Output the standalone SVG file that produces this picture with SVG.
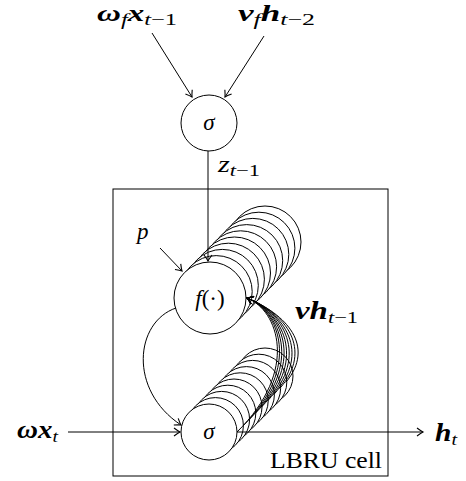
<svg xmlns="http://www.w3.org/2000/svg" width="466" height="481" viewBox="0 0 466 481">
<style>
.ln{fill:none;stroke:#000;stroke-width:1}
.cir{fill:#fff;stroke:#000;stroke-width:1}
.it{font-family:"Liberation Serif",serif;font-style:italic;font-size:23px;fill:#000}
.bi{font-family:"Liberation Serif",serif;font-style:italic;font-weight:bold;font-size:25px;fill:#000}
.bt{font-family:"Liberation Serif",serif;font-style:italic;font-weight:bold;font-size:23px;fill:#000}
.up{font-family:"Liberation Serif",serif;font-style:normal;font-size:23px;fill:#000}
.sub{font-family:"Liberation Serif",serif;font-style:italic;font-weight:normal;font-size:17px;fill:#000}
.rm{font-style:normal}
</style>
<defs>
<marker id="ar" markerWidth="12" markerHeight="12" refX="0" refY="0" viewBox="-7 -6 8 12" orient="auto" markerUnits="userSpaceOnUse">
<path d="M-6,-4 Q-2,-1 0,0 Q-2,1 -6,4" fill="none" stroke="#000" stroke-width="1.1"/>
</marker>
</defs>

<rect id="cell" x="113" y="189" width="275" height="287" fill="none" stroke="#000" stroke-width="1"/>

<g id="sigma-top">
<circle class="cir" cx="209" cy="123" r="28"/>
<text class="it" x="209" y="130" text-anchor="middle">σ</text>
</g>

<g id="f-stack">
<circle class="cir" cx="265" cy="242" r="36"/>
<circle class="cir" cx="258.9" cy="248.2" r="36"/>
<circle class="cir" cx="252.8" cy="254.4" r="36"/>
<circle class="cir" cx="246.7" cy="260.6" r="36"/>
<circle class="cir" cx="240.6" cy="266.8" r="36"/>
<circle class="cir" cx="234.5" cy="273" r="36"/>
<circle class="cir" cx="228.4" cy="279.2" r="36"/>
<circle class="cir" cx="222.3" cy="285.4" r="36"/>
<circle class="cir" cx="216.2" cy="291.6" r="36"/>
<circle class="cir" cx="210" cy="298" r="36"/>
<text x="210" y="306" text-anchor="middle"><tspan class="it">f</tspan><tspan class="up">(·)</tspan></text>
</g>

<g id="sigma-stack">
<circle class="cir" cx="265" cy="376" r="28"/>
<circle class="cir" cx="258.8" cy="382.2" r="28"/>
<circle class="cir" cx="252.6" cy="388.4" r="28"/>
<circle class="cir" cx="246.4" cy="394.6" r="28"/>
<circle class="cir" cx="240.2" cy="400.8" r="28"/>
<circle class="cir" cx="234" cy="407" r="28"/>
<circle class="cir" cx="227.8" cy="413.2" r="28"/>
<circle class="cir" cx="221.6" cy="419.4" r="28"/>
<circle class="cir" cx="215.4" cy="425.6" r="28"/>
<circle class="cir" cx="209" cy="432" r="28"/>
<text class="it" x="209" y="439" text-anchor="middle">σ</text>
</g>

<g id="connectors">
<line class="ln" x1="152" y1="33" x2="192" y2="97" marker-end="url(#ar)"/>
<line class="ln" x1="264" y1="36" x2="225" y2="97" marker-end="url(#ar)"/>
<line class="ln" x1="208" y1="151" x2="208" y2="261" marker-end="url(#ar)"/>
<line class="ln" x1="160" y1="248" x2="182" y2="271" marker-end="url(#ar)"/>
<path class="ln" d="M176,308 C135,322 128,390 181,425" marker-end="url(#ar)"/>
<line class="ln" x1="68" y1="432" x2="180" y2="432" marker-end="url(#ar)"/>
<line class="ln" x1="237" y1="432" x2="423" y2="432" marker-end="url(#ar)"/>
<path class="ln" d="M237,432 C300,370 278,310 247,298" marker-end="url(#ar)"/>
<path class="ln" d="M243.1,425.8 C302,367 279,310 247,298" marker-end="url(#ar)"/>
<path class="ln" d="M249.2,419.6 C304,364 280,311 247,298" marker-end="url(#ar)"/>
<path class="ln" d="M255.3,413.4 C306,361 281,311 247,298" marker-end="url(#ar)"/>
<path class="ln" d="M261.4,407.2 C308,358 282,312 247,298" marker-end="url(#ar)"/>
<path class="ln" d="M267.5,401 C310,355 283,312 247,298" marker-end="url(#ar)"/>
<path class="ln" d="M273.6,394.8 C312,352 284,313 247,298" marker-end="url(#ar)"/>
<path class="ln" d="M279.7,388.6 C314,349 285,313 247,298" marker-end="url(#ar)"/>
<path class="ln" d="M285.8,382.4 C316,346 286,314 247,298" marker-end="url(#ar)"/>
</g>

<g id="labels">
<text x="97" y="21" textLength="80" lengthAdjust="spacingAndGlyphs"><tspan class="bt">ω</tspan><tspan class="sub" dy="4">f</tspan><tspan class="bt" dy="-4">x</tspan><tspan class="sub" dy="4">t<tspan class="rm">−1</tspan></tspan></text>
<text x="238" y="21" textLength="77" lengthAdjust="spacingAndGlyphs"><tspan class="bt">v</tspan><tspan class="sub" dy="4">f</tspan><tspan class="bt" dy="-4">h</tspan><tspan class="sub" dy="4">t<tspan class="rm">−2</tspan></tspan></text>
<text x="218" y="172" textLength="42" lengthAdjust="spacingAndGlyphs"><tspan class="it">z</tspan><tspan class="sub" dy="4">t<tspan class="rm">−1</tspan></tspan></text>
<text class="it" x="137" y="239">p</text>
<text x="295" y="319" textLength="63" lengthAdjust="spacingAndGlyphs"><tspan class="bi">v</tspan><tspan class="bi">h</tspan><tspan class="sub" dy="4">t<tspan class="rm">−1</tspan></tspan></text>
<text x="17" y="438" textLength="41" lengthAdjust="spacingAndGlyphs"><tspan class="bi">ω</tspan><tspan class="bi">x</tspan><tspan class="sub" dy="4">t</tspan></text>
<text x="435" y="441" textLength="22" lengthAdjust="spacingAndGlyphs"><tspan class="bi">h</tspan><tspan class="sub" dy="4">t</tspan></text>
<text class="up" x="270" y="468" textLength="112" lengthAdjust="spacingAndGlyphs">LBRU cell</text>
</g>
</svg>
